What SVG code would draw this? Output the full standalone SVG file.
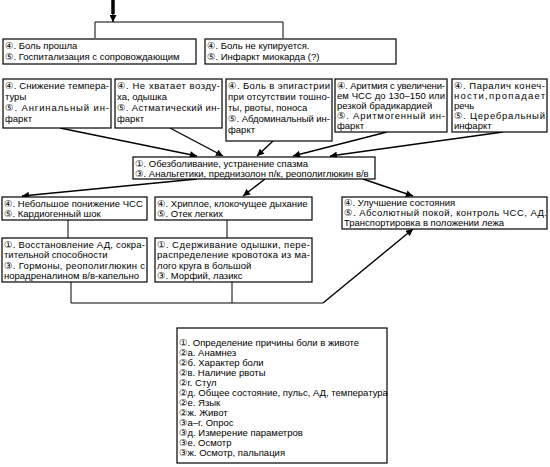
<svg xmlns="http://www.w3.org/2000/svg" width="550" height="467" viewBox="0 0 550 467">
<style>
.b{fill:#fff;stroke:#000;stroke-width:1.2}
.t{font-family:"Liberation Sans",Arial,"DejaVu Sans",sans-serif;font-size:9.5px;fill:#000}
.c{fill:none;stroke:#000;stroke-width:1}
.a{fill:none;stroke:#000;stroke-width:1.4;marker-end:url(#ah)}
</style>
<defs>
<marker id="ah" viewBox="0 0 10 10" refX="10" refY="5" markerWidth="9" markerHeight="7" markerUnits="userSpaceOnUse" orient="auto">
<path d="M0,0 L10,5 L0,10 z" fill="#000"/>
</marker>
</defs>
<rect x="0" y="0" width="550" height="467" fill="#fff"/>
<g id="connectors">
<line x1="113" y1="0" x2="113" y2="14" stroke="#000" stroke-width="3.5"/>
<line class="a" x1="113" y1="12" x2="113" y2="22"/>
<polyline class="c" points="95,38 95,22 283,22 283,38"/>
<line class="a" x1="60" y1="128" x2="197" y2="156"/>
<line class="a" x1="170" y1="128" x2="223" y2="156"/>
<line class="a" x1="273" y1="141" x2="257" y2="156"/>
<line class="a" x1="387" y1="132" x2="293" y2="156"/>
<line class="a" x1="503" y1="132" x2="330" y2="156"/>
<line class="a" x1="197" y1="179" x2="22" y2="196"/>
<line class="a" x1="265" y1="179" x2="243" y2="196"/>
<line class="a" x1="363" y1="179" x2="413" y2="196"/>
<line class="c" x1="68" y1="220" x2="68" y2="238"/>
<line class="c" x1="227" y1="220" x2="227" y2="238"/>
<polyline class="c" points="71,282 71,303 323,303"/>
<line class="c" x1="232" y1="282" x2="232" y2="303"/>
<line class="a" x1="323" y1="303" x2="413" y2="229"/>
</g>
<g id="n1"><rect class="b" x="3" y="39" width="193" height="25"/>
<text class="t" x="5" y="49">④. Боль прошла</text>
<text class="t" x="5" y="60">⑤. Госпитализация с сопровождающим</text></g>
<g id="n2"><rect class="b" x="205" y="39" width="191" height="25"/>
<text class="t" x="207" y="49">④. Боль не купируется.</text>
<text class="t" x="207" y="60">⑤. Инфаркт миокарда (?)</text></g>
<g id="n3"><rect class="b" x="3" y="79" width="108" height="49"/>
<text class="t" x="5" y="89" textLength="104" lengthAdjust="spacing">④. Снижение темпера-</text>
<text class="t" x="5" y="100">туры</text>
<text class="t" x="5" y="111" textLength="104" lengthAdjust="spacing">⑤. Ангинальный ин-</text>
<text class="t" x="5" y="122">фаркт</text></g>
<g id="n4"><rect class="b" x="115" y="79" width="107" height="49"/>
<text class="t" x="117" y="89" textLength="103" lengthAdjust="spacing">④. Не хватает возду-</text>
<text class="t" x="117" y="100">ха, одышка</text>
<text class="t" x="117" y="111" textLength="103" lengthAdjust="spacing">⑤. Астматический ин-</text>
<text class="t" x="117" y="122">фаркт</text></g>
<g id="n5"><rect class="b" x="226" y="79" width="106" height="62"/>
<text class="t" x="228" y="89" textLength="102" lengthAdjust="spacing">④. Боль в эпигастрии</text>
<text class="t" x="228" y="100" textLength="102" lengthAdjust="spacing">при отсутствии тошно-</text>
<text class="t" x="228" y="111">ты, рвоты, поноса</text>
<text class="t" x="228" y="122" textLength="102" lengthAdjust="spacing">⑤. Абдоминальный ин-</text>
<text class="t" x="228" y="133">фаркт</text></g>
<g id="n6"><rect class="b" x="335" y="79" width="112" height="53"/>
<text class="t" x="337" y="89" textLength="108" lengthAdjust="spacing">④. Аритмия с увеличени-</text>
<text class="t" x="337" y="99" textLength="108" lengthAdjust="spacing">ем ЧСС до 130–150 или</text>
<text class="t" x="337" y="109">резкой брадикардией</text>
<text class="t" x="337" y="119" textLength="108" lengthAdjust="spacing">⑤. Аритмогенный ин-</text>
<text class="t" x="337" y="129">фаркт</text></g>
<g id="n7"><rect class="b" x="452" y="79" width="95" height="53"/>
<text class="t" x="454" y="89" textLength="91" lengthAdjust="spacing">④. Паралич конеч-</text>
<text class="t" x="454" y="99" textLength="91" lengthAdjust="spacing">ности,пропадает</text>
<text class="t" x="454" y="109">речь</text>
<text class="t" x="454" y="119" textLength="91" lengthAdjust="spacing">⑤. Церебральный</text>
<text class="t" x="454" y="129">инфаркт</text></g>
<g id="n8"><rect class="b" x="133" y="157" width="242" height="22"/>
<text class="t" x="135" y="166.5">①. Обезболивание, устранение спазма</text>
<text class="t" x="135" y="176.5">③. Анальгетики, преднизолон п/к, реополиглюкин в/в</text></g>
<g id="n9"><rect class="b" x="2" y="197" width="145" height="23"/>
<text class="t" x="4" y="207">④. Небольшое понижение ЧСС</text>
<text class="t" x="4" y="217">⑤. Кардиогенный шок</text></g>
<g id="n10"><rect class="b" x="155" y="197" width="157" height="23"/>
<text class="t" x="157" y="207">④. Хриплое, клокочущее дыхание</text>
<text class="t" x="157" y="217">⑤. Отек легких</text></g>
<g id="n11"><rect class="b" x="342" y="197" width="205" height="32"/>
<text class="t" x="344" y="206">④. Улучшение состояния</text>
<text class="t" x="344" y="216" textLength="203" lengthAdjust="spacing">⑤. Абсолютный покой, контроль ЧСС, АД.</text>
<text class="t" x="344" y="226">Транспортировка в положении лежа</text></g>
<g id="n12"><rect class="b" x="2" y="238" width="145" height="44"/>
<text class="t" x="4" y="247.5" textLength="141" lengthAdjust="spacing">①. Восстановление АД, сокра-</text>
<text class="t" x="4" y="258">тительной способности</text>
<text class="t" x="4" y="268.5" textLength="141" lengthAdjust="spacing">③. Гормоны, реополиглюкин с</text>
<text class="t" x="4" y="279">норадреналином в/в-капельно</text></g>
<g id="n13"><rect class="b" x="155" y="238" width="157" height="44"/>
<text class="t" x="157" y="247.5" textLength="153" lengthAdjust="spacing">①. Сдерживание одышки, пере-</text>
<text class="t" x="157" y="258" textLength="153" lengthAdjust="spacing">распределение кровотока из ма-</text>
<text class="t" x="157" y="268.5">лого круга в большой</text>
<text class="t" x="157" y="279">③. Морфий, лазикс</text></g>
<g id="n14"><rect class="b" x="177" y="328" width="210" height="135"/>
<text class="t" x="179" y="345.5">①. Определение причины боли в животе</text>
<text class="t" x="179" y="355.5">②а. Анамнез</text>
<text class="t" x="179" y="365.5">②б. Характер боли</text>
<text class="t" x="179" y="375.5">②в. Наличие рвоты</text>
<text class="t" x="179" y="385.5">②г. Стул</text>
<text class="t" x="179" y="395.5">②д. Общее состояние, пульс, АД, температура</text>
<text class="t" x="179" y="405.5">②е. Язык</text>
<text class="t" x="179" y="415.5">②ж. Живот</text>
<text class="t" x="179" y="425.5">③а–г. Опрос</text>
<text class="t" x="179" y="435.5">③д. Измерение параметров</text>
<text class="t" x="179" y="445.5">③е. Осмотр</text>
<text class="t" x="179" y="455.5">③ж. Осмотр, пальпация</text></g>
</svg>
